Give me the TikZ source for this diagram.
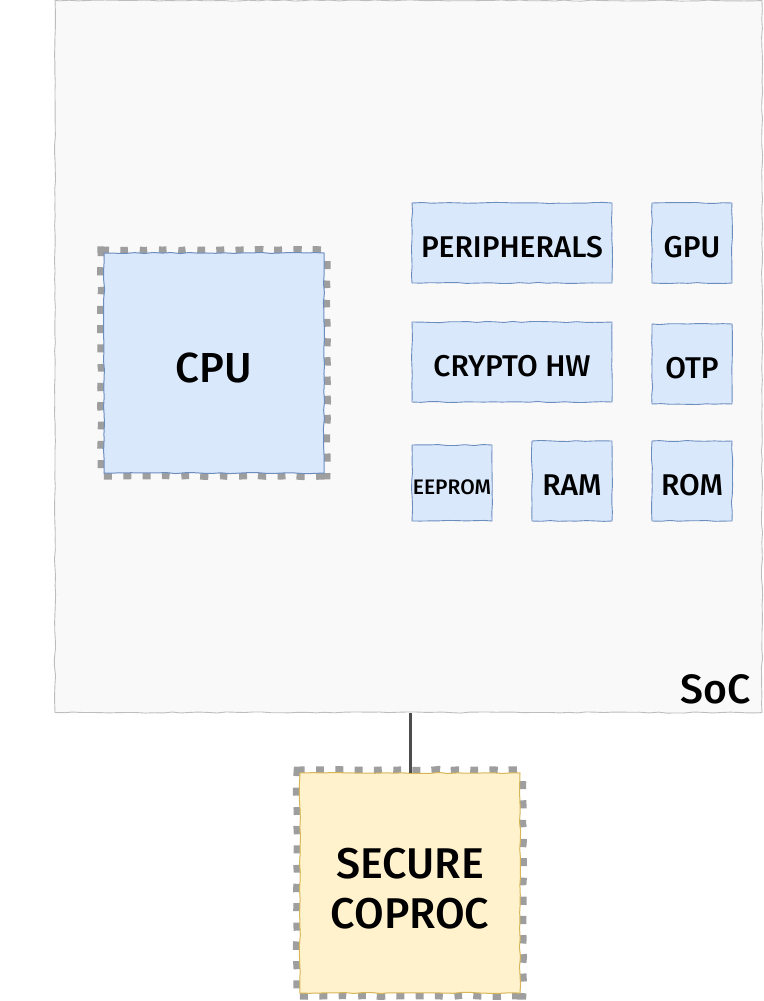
\documentclass[tikz,border=0pt]{standalone}
\usepackage{fontspec}
\setmainfont{Fira Sans}[UprightFont=* Medium]
\usetikzlibrary{decorations.pathmorphing}
\definecolor{socfill}{HTML}{F9F9F9}
\definecolor{socline}{HTML}{BDBDBD}
\definecolor{bluefill}{HTML}{DAE8FC}
\definecolor{blueline}{HTML}{6C8EBF}
\definecolor{yelfill}{HTML}{FFF2CC}
\definecolor{yelline}{HTML}{D6B656}
\definecolor{pingray}{HTML}{9E9E9E}
\definecolor{wiregray}{HTML}{4D4D4D}
\tikzset{
  x=1pt, y=-1pt,
  wobble/.style={decorate, decoration={random steps, segment length=9pt, amplitude=0.6pt}},
  box/.style={rectangle, inner sep=0pt, line width=0.9pt, wobble},
  socbox/.style={box, fill=socfill, draw=socline},
  unit/.style={box, fill=bluefill, draw=blueline, font=\fontsize{30}{34}\selectfont,
    text height=29pt, text depth=0pt},
  chip/.style={box, line width=1pt,
    preaction={draw=pingray, line width=13pt, dash pattern=on 8pt off 11.3pt}},
  wire/.style={draw=wiregray, line width=3pt}
}
\begin{document}
\begin{tikzpicture}
\useasboundingbox (0,0) rectangle (763,1001);
\node[socbox, minimum width=707pt, minimum height=712pt] (soc) at (408.5,356.5) {};
\node[anchor=base east, inner sep=0pt, font=\fontsize{41}{44}\selectfont] (soclabel) at (751,703) {SoC};
\node[chip, fill=bluefill, draw=blueline, minimum width=220pt, minimum height=220pt,
      font=\fontsize{42}{50}\selectfont] (cpu) at (214,363) {\raisebox{-5pt}[\height][\depth]{CPU}};
\node[unit, minimum width=200pt, minimum height=80pt] (periph) at (512,243) {PERIPHERALS};
\node[unit, minimum width=80pt, minimum height=80pt] (gpu) at (692,243) {GPU};
\node[unit, minimum width=200pt, minimum height=80pt] (crypto) at (512,362) {CRYPTO HW};
\node[unit, minimum width=80pt, minimum height=80pt] (otp) at (692,364) {OTP};
\node[unit, minimum width=80pt, minimum height=76pt, font=\fontsize{21}{24}\selectfont,
      text height=22pt] (eeprom) at (452,483) {EEPROM};
\node[unit, minimum width=80pt, minimum height=80pt] (ram) at (572,481) {RAM};
\node[unit, minimum width=80pt, minimum height=80pt] (rom) at (692,481) {ROM};
\node[chip, fill=yelfill, draw=yelline, minimum width=220pt, minimum height=220pt,
      font=\fontsize{43}{50}\selectfont] (coproc) at (410,883)
      {\raisebox{-10pt}[\height][\depth]{\begin{tabular}{@{}c@{}}SECURE\\COPROC\end{tabular}}};
\draw[wire] (soc.south -| coproc.north) -- (coproc.north);
\end{tikzpicture}
\end{document}
